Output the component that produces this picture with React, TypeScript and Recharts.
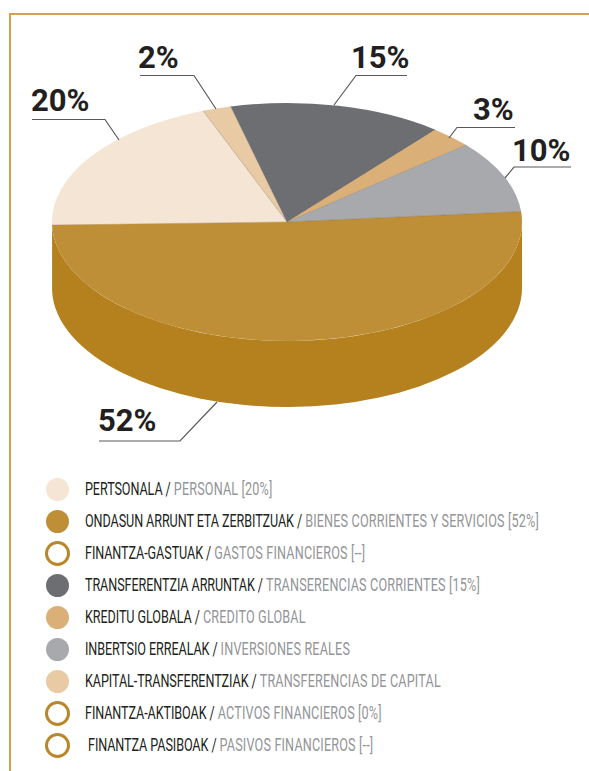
import React from 'react';
import { PieChart, Pie } from 'recharts';

// pie slices, clockwise from the left edge
const sliceNames = ['PERTSONALA', 'KAPITAL-TRANSFERENTZIAK', 'TRANSFERENTZIA ARRUNTAK', 'KREDITU GLOBALA', 'INBERTSIO ERREALAK', 'ONDASUN ARRUNT ETA ZERBITZUAK'];
const sliceValues = [20, 2, 15, 3, 10, 52];
const sliceColors = ['#F5E5D5', '#E8CAA4', '#6D6E71', '#DBB078', '#A7A9AC', '#BF8F38'];

// legend rows
const legendBasque = ['PERTSONALA', 'ONDASUN ARRUNT ETA ZERBITZUAK', 'FINANTZA-GASTUAK', 'TRANSFERENTZIA ARRUNTAK', 'KREDITU GLOBALA', 'INBERTSIO ERREALAK', 'KAPITAL-TRANSFERENTZIAK', 'FINANTZA-AKTIBOAK', 'FINANTZA PASIBOAK'];
const legendSpanish = ['PERSONAL [20%]', 'BIENES CORRIENTES Y SERVICIOS [52%]', 'GASTOS FINANCIEROS [--]', 'TRANSERENCIAS CORRIENTES [15%]', 'CREDITO GLOBAL', 'INVERSIONES REALES', 'TRANSFERENCIAS DE CAPITAL', 'ACTIVOS FINANCIEROS [0%]', 'PASIVOS FINANCIEROS [--]'];
const legendColors = ['#F5E5D5', '#BF8F38', null, '#6D6E71', '#DBB078', '#A7A9AC', '#E8CAA4', null, null];

const data = sliceNames.map((name, i) => ({ name, value: sliceValues[i], fill: sliceColors[i] }));

const CX = 287;
const CY = 222;
const RX = 235;
const RY = 119;
const DEPTH = 66;
const WALL = '#B5811F';
const RING = '#B8862B';

const px = (cx: number, a: number) => cx + RX * Math.cos((a * Math.PI) / 180);
const py = (cy: number, a: number) => cy - RY * Math.sin((a * Math.PI) / 180);

const TopSlice = (props: any) => {
  const { cx, cy, startAngle, endAngle, fill } = props;
  const large = Math.abs(startAngle - endAngle) > 180 ? 1 : 0;
  const d = `M${cx},${cy} L${px(cx, startAngle)},${py(cy, startAngle)} A${RX},${RY} 0 ${large} 1 ${px(cx, endAngle)},${py(cy, endAngle)} Z`;
  return (
    <g>
      <path d={d} fill={fill} />
      <path d={`M${px(cx, startAngle)},${py(cy, startAngle)} L${cx},${cy}`} fill="none" stroke="#6B5B45" strokeWidth={0.5} strokeOpacity={0.6} />
    </g>
  );
};

// side wall, only where the slice faces the viewer (angles -180..0)
const WallSlice = (props: any) => {
  const { cx, cy, startAngle, endAngle } = props;
  const paths: string[] = [];
  [0, -360].forEach((shift) => {
    const lo = Math.max(Math.min(startAngle, endAngle) + shift, -180);
    const hi = Math.min(Math.max(startAngle, endAngle) + shift, 0);
    if (hi <= lo) return;
    paths.push(
      `M${px(cx, lo)},${py(cy, lo)} A${RX},${RY} 0 0 0 ${px(cx, hi)},${py(cy, hi)} L${px(cx, hi)},${py(cy, hi) + DEPTH} A${RX},${RY} 0 0 1 ${px(cx, lo)},${py(cy, lo) + DEPTH} Z`
    );
  });
  return <path d={paths.join(' ')} fill={WALL} />;
};

// text spot and leader line for each slice label
const labelLayout = [
  { x: 31, y: 111, line: '32,119.5 105,119.5 119,140' },
  { x: 138, y: 68, line: '140,75.5 194,75.5 216,109' },
  { x: 351, y: 68, line: '407,75.5 356,75.5 334,105' },
  { x: 473, y: 120, line: '515,127.5 457,127.5 449,138' },
  { x: 512, y: 161, line: '571,167 514,167 505,178' },
  { x: 98, y: 431, line: '99,441 180,441 217,402' },
];

const renderLabel = (props: any) => {
  const spot = labelLayout[props.index];
  return (
    <g key={props.index}>
      <polyline points={spot.line} fill="none" stroke="#58595B" strokeWidth={1.2} />
      <text x={spot.x} y={spot.y} fontFamily="Roboto, sans-serif" fontWeight={700} fontSize={31} fill="#231F20" textAnchor="start">
        {`${props.value}%`}
      </text>
    </g>
  );
};

const App = () => {
  return (
    <div style={{ position: 'absolute', left: 0, top: 0, width: 589, height: 771, overflow: 'hidden', background: '#fff' }}>
      <div style={{ position: 'absolute', left: 9, top: 13, right: 0, bottom: 0, borderLeft: '2px solid #D4A04F', borderTop: '2px solid #D4A04F' }} />
      <div style={{ position: 'absolute', left: 0, top: 0 }}>
        <PieChart width={589} height={470} margin={{ top: 0, right: 0, bottom: 0, left: 0 }}>
          <Pie data={data} dataKey="value" nameKey="name" cx={CX} cy={CY} outerRadius={RX} startAngle={181.5} endAngle={-178.5} stroke="none" isAnimationActive={false} shape={WallSlice} />
          <Pie data={data} dataKey="value" nameKey="name" cx={CX} cy={CY} outerRadius={RX} startAngle={181.5} endAngle={-178.5} stroke="none" isAnimationActive={false} shape={TopSlice} label={renderLabel} labelLine={false} />
        </PieChart>
      </div>
      {legendBasque.map((name, i) => {
        const rowY = 489 + i * 32;
        const color = legendColors[i];
        const size = color ? 23 : 25;
        return (
          <React.Fragment key={name}>
            <div
              style={{
                position: 'absolute',
                left: 57 - size / 2,
                top: rowY - size / 2,
                width: size,
                height: size,
                boxSizing: 'border-box',
                borderRadius: '50%',
                background: color || '#fff',
                border: color ? 'none' : `3px solid ${RING}`,
              }}
            />
            <div
              style={{
                position: 'absolute',
                left: i === 8 ? 88 : 85,
                top: rowY - 10,
                height: 20,
                lineHeight: '20px',
                fontFamily: 'Roboto, sans-serif',
                fontSize: 18,
                whiteSpace: 'nowrap',
                color: '#231F20',
                letterSpacing: -0.12,
                transform: 'scaleX(0.7)',
                transformOrigin: 'left center',
              }}
            >
              {name} / <span style={{ color: '#939598', letterSpacing: 0.25 }}>{legendSpanish[i]}</span>
            </div>
          </React.Fragment>
        );
      })}
    </div>
  );
};

export default App;
